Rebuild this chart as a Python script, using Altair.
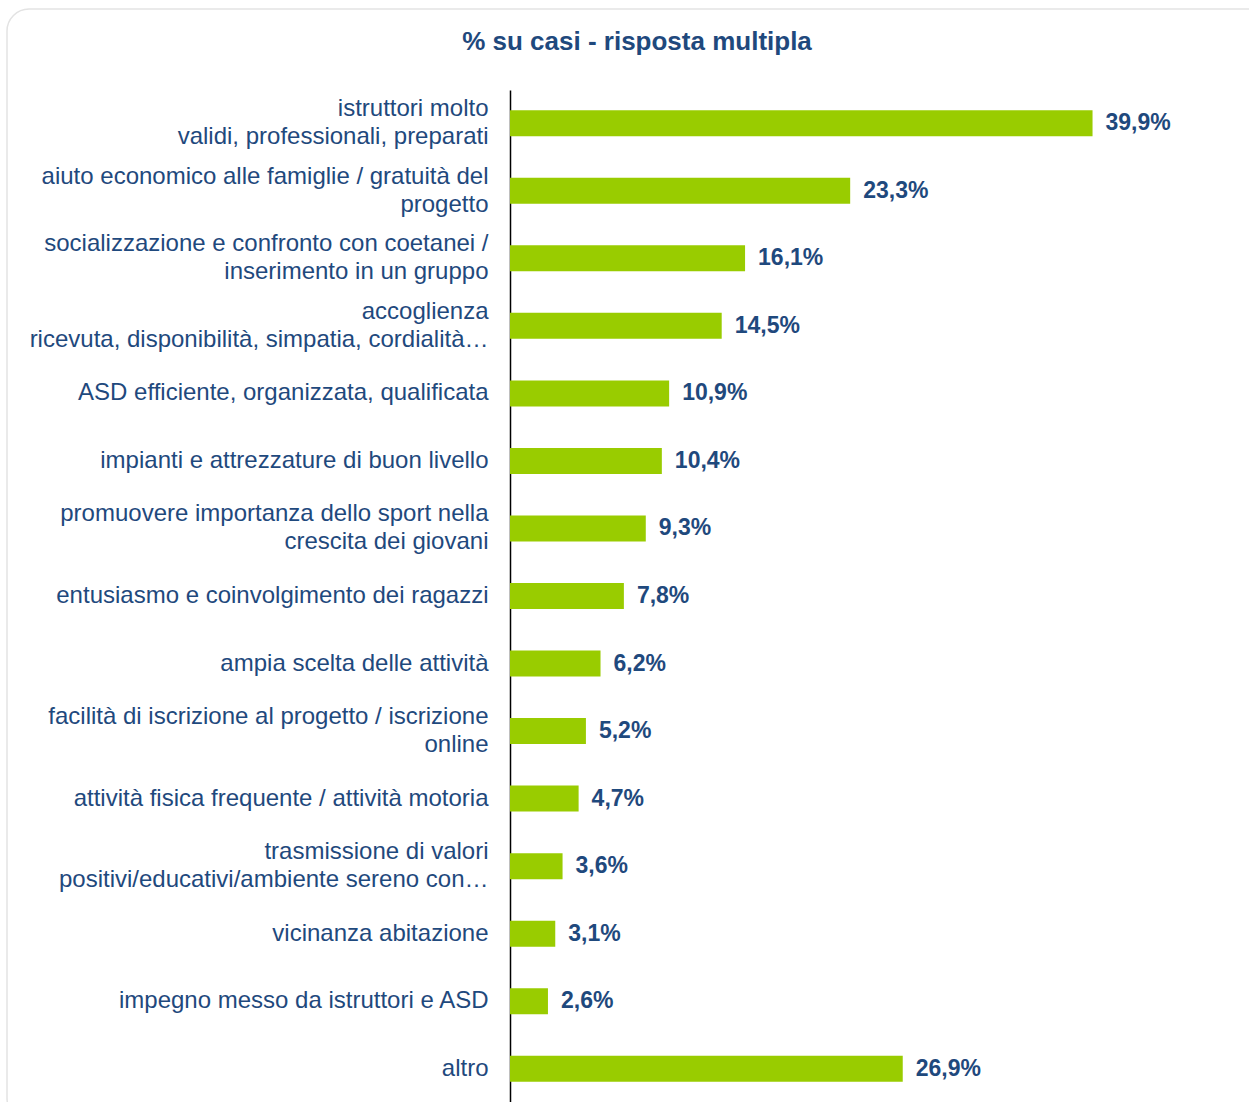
import altair as alt
import pandas as pd

categories = [
    "istruttori molto|validi, professionali, preparati",
    "aiuto economico alle famiglie / gratuità del|progetto",
    "socializzazione e confronto con coetanei /|inserimento in un  gruppo",
    "accoglienza|ricevuta, disponibilità, simpatia, cordialità…",
    "ASD efficiente, organizzata, qualificata",
    "impianti e attrezzature di buon livello",
    "promuovere importanza dello sport nella|crescita dei giovani",
    "entusiasmo e coinvolgimento dei ragazzi",
    "ampia scelta delle attività",
    "facilità di iscrizione al progetto / iscrizione|online",
    "attività fisica frequente / attività motoria",
    "trasmissione di valori|positivi/educativi/ambiente sereno con…",
    "vicinanza abitazione",
    "impegno messo da istruttori e ASD",
    "altro",
]
values = [39.9, 23.3, 16.1, 14.5, 10.9, 10.4, 9.3, 7.8, 6.2, 5.2, 4.7, 3.6, 3.1, 2.6, 26.9]
title_text = "% su casi - risposta multipla"

df = pd.DataFrame({"cat": categories, "val": values})
df["lab"] = [f"{v:.1f}%".replace(".", ",") for v in values]

BLUE = "#1F497D"
GREEN = "#99CC00"
FONT = "Liberation Sans"

y_enc = alt.Y(
    "cat:N",
    sort=categories,
    scale=alt.Scale(paddingInner=0.615, paddingOuter=0.3),
    axis=alt.Axis(
        title=None,
        labelExpr="split(datum.label, '|')",
        labelAlign="right",
        labelPadding=22,
        labelFont=FONT,
        labelFontSize=24,
        labelColor=BLUE,
        labelLineHeight=28,
        labelLimit=0,
        labelOffset=alt.ExprRef(expr="indexof(datum.value, '|') >= 0 ? -14 : 0"),
        ticks=False,
        domainColor="#000000",
        domainWidth=1.5,
        grid=False,
    ),
)
x_enc = alt.X("val:Q", scale=alt.Scale(domain=[0, 50]), axis=None)

bars = alt.Chart(df).mark_bar(color=GREEN).encode(x=x_enc, y=y_enc)
labels = alt.Chart(df).mark_text(
    align="left", baseline="middle", dx=13, font=FONT, fontSize=23,
    fontWeight="bold", color=BLUE
).encode(x=x_enc, y=y_enc, text="lab:N")

one = pd.DataFrame({"t": [title_text]})
frame = alt.Chart(one).mark_rect(
    fill=None, stroke="#e3e3e3", strokeWidth=1.5, cornerRadius=22
).encode(x=alt.value(-503), x2=alt.value(770), y=alt.value(-81), y2=alt.value(1030))
title = alt.Chart(one).mark_text(
    align="center", baseline="middle", font=FONT, fontSize=26,
    fontWeight="bold", color=BLUE
).encode(x=alt.value(127), y=alt.value(-48), text="t:N")

chart = alt.layer(frame, title, bars, labels).properties(
    width=730,
    height=1012,
    autosize=alt.AutoSizeParams(type="none"),
    padding={"left": 510, "top": 90, "right": 9, "bottom": 0},
).configure_view(stroke=None)

chart.save("out.html", embed_options={"renderer": "svg", "actions": False})
